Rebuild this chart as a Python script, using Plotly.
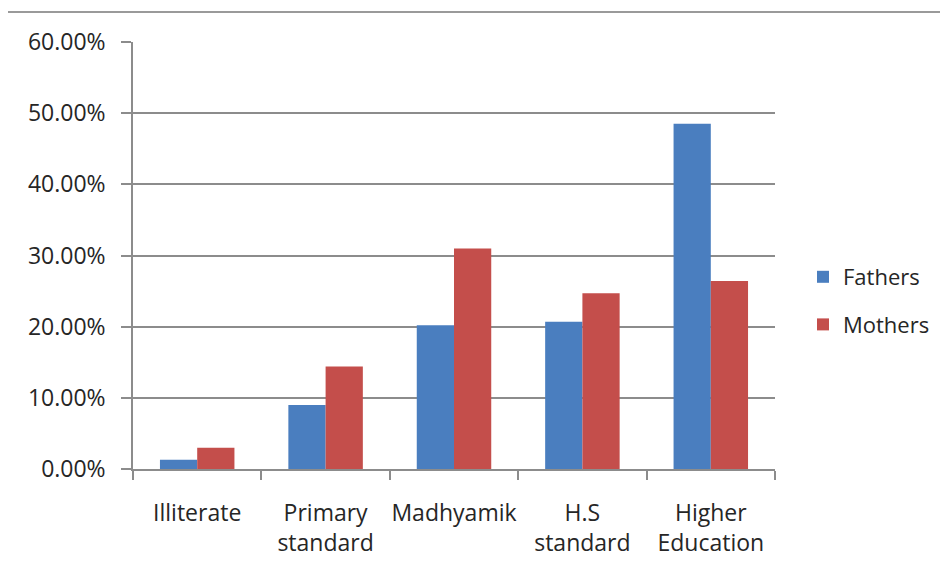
import plotly.graph_objects as go

categories = ["Illiterate", "Primary<br>standard", "Madhyamik", "H.S<br>standard", "Higher<br>Education"]
fathers = [0.013, 0.090, 0.202, 0.207, 0.485]
mothers = [0.030, 0.144, 0.310, 0.247, 0.264]
y_ticks = [0, 0.1, 0.2, 0.3, 0.4, 0.5, 0.6]

FONT = "Open Sans"
OFF = 8  # page body margin
fig = go.Figure()
fig.add_trace(go.Bar(name="Fathers", x=categories, y=fathers, marker_color="#4A7EBF",
                     marker_line_width=0, legendgroup="f"))
fig.add_trace(go.Bar(name="Mothers", x=categories, y=mothers, marker_color="#C44E4B",
                     marker_line_width=0, legendgroup="m"))

W, H = 948 - OFF, 582 - OFF
L, R, T, B = 133 - OFF, 173, 42 - OFF, 113
pw, ph = W - L - R, H - T - B

fig.update_layout(
    width=W, height=H,
    margin=dict(l=L, r=R, t=T, b=B, autoexpand=False),
    paper_bgcolor="white", plot_bgcolor="white",
    barmode="group", bargap=0.42, bargroupgap=0,
    font=dict(family=FONT, size=22, color="#262626"),
    showlegend=True,
    legend=dict(x=(803 - OFF - L) / pw, y=(469 - 301) / ph, xanchor="left", yanchor="middle",
                font=dict(size=22, family=FONT, color="#262626"),
                tracegroupgap=16, traceorder="grouped", itemwidth=30,
                bgcolor="rgba(0,0,0,0)"),
    xaxis=dict(showline=True, linecolor="#8C8C8C", linewidth=1.5,
               ticks="outside", tickson="boundaries", ticklen=9, tickcolor="#8C8C8C", tickwidth=1.5,
               showgrid=False, ticklabelstandoff=23, tickangle=0, automargin=False,
               tickfont=dict(size=23, family=FONT)),
    yaxis=dict(range=[0, 0.6], tickvals=y_ticks, tickformat=".2%",
               showline=True, linecolor="#8C8C8C", linewidth=1.5,
               ticks="outside", ticklen=10, tickcolor="#8C8C8C", tickwidth=1.5,
               showgrid=True, gridcolor="#8C8C8C", gridwidth=1.5, automargin=False,
               zeroline=False, ticklabelstandoff=11, tickfont=dict(size=23, family=FONT)),
    shapes=[dict(type="line", xref="paper", yref="paper",
                 x0=(8 - OFF - L) / pw, x1=(W - L) / pw,
                 y0=(582 - 113 - 12) / ph, y1=(582 - 113 - 12) / ph,
                 line=dict(color="#9A9A9A", width=2))],
)

fig.write_html("out.html")
